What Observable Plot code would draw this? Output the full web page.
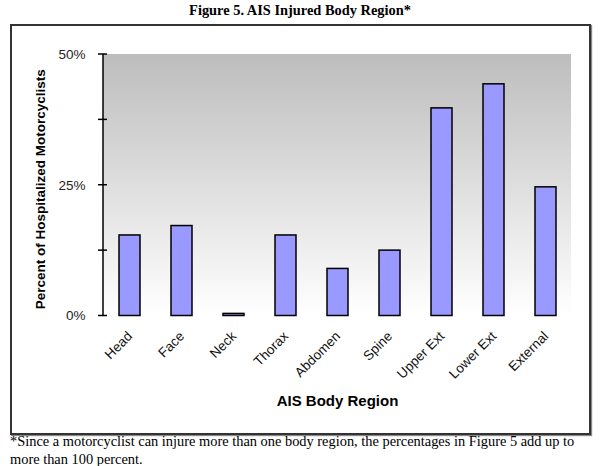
<!DOCTYPE html>
<html><head><meta charset="utf-8">
<script src="https://cdn.jsdelivr.net/npm/d3@7"></script>
<script src="https://cdn.jsdelivr.net/npm/@observablehq/plot@0.6"></script>
<style>
html,body{margin:0;padding:0;background:#fff;}
body{width:600px;height:466px;position:relative;overflow:hidden;}
#title{position:absolute;left:0;top:1px;width:600px;text-align:center;font:bold 14.4px/18px "Liberation Serif","Times New Roman",serif;color:#000;}
#frame{position:absolute;left:10px;top:24px;width:577px;height:407px;border:2px solid #333;box-shadow:1px 1px 1px #888;}
#note{position:absolute;left:10px;top:432px;width:590px;font:14.4px/18px "Liberation Serif","Times New Roman",serif;color:#000;white-space:nowrap;}
</style></head><body>
<div id="title">Figure 5. AIS Injured Body Region*</div>
<div id="frame"></div>
<div id="note">*Since a motorcyclist can injure more than one body region, the percentages in Figure 5 add up to<br>more than 100 percent.</div>
<script>
const regions = ["Head", "Face", "Neck", "Thorax", "Abdomen", "Spine", "Upper Ext", "Lower Ext", "External"];
const percents = [15.4, 17.2, 0.4, 15.4, 9.0, 12.5, 39.7, 44.3, 24.6];
const yTicks = [0, 12.5, 25, 37.5, 50];
const yLabels = [0, 25, 50];
const xTitle = "AIS Body Region";
const yTitle = "Percent of Hospitalized Motorcyclists";

const data = regions.map((r, i) => ({region: r, pct: percents[i]}));

const background = (index, scales, values, dim) => {
  const g = d3.create("svg:g");
  const grad = g.append("defs").append("linearGradient")
    .attr("id", "bgGrad").attr("x1", 0).attr("y1", 0).attr("x2", 0).attr("y2", 1);
  grad.append("stop").attr("offset", "0%").attr("stop-color", "#bdbdbd");
  grad.append("stop").attr("offset", "100%").attr("stop-color", "#ffffff");
  const y = scales.y;
  g.append("rect")
    .attr("x", dim.marginLeft)
    .attr("width", dim.width - dim.marginLeft - dim.marginRight)
    .attr("y", y(d3.max(yTicks)))
    .attr("height", y(0) - y(d3.max(yTicks)))
    .attr("fill", "url(#bgGrad)");
  return g.node();
};

const yAxisLine = (index, scales, values, dim) => {
  const g = d3.create("svg:g").attr("stroke", "#000").attr("stroke-width", 1.5);
  const y = scales.y;
  g.append("line")
    .attr("x1", dim.marginLeft).attr("x2", dim.marginLeft)
    .attr("y1", y(d3.max(yTicks))).attr("y2", y(0));
  for (const t of yTicks) {
    g.append("line")
      .attr("x1", dim.marginLeft - 5).attr("x2", dim.marginLeft + 4)
      .attr("y1", y(t)).attr("y2", y(t));
  }
  return g.node();
};

const chart = Plot.plot({
  width: 577,
  height: 407,
  marginLeft: 91,
  marginRight: 18,
  marginTop: 28,
  marginBottom: 117.5,
  style: {fontFamily: "'Liberation Sans', Arial, sans-serif", fontSize: "12px", background: "transparent", color: "#000"},
  x: {domain: regions, paddingInner: 0.6, paddingOuter: 0.3, label: null},
  y: {domain: [0, 50], label: null},
  marks: [
    background,
    Plot.axisY({ticks: yLabels, tickSize: 0, tickPadding: 18, tickFormat: d => d + "%", fontSize: 13.5, fill: "#222", label: null}),
    Plot.axisX({tickRotate: -45, tickSize: 0, tickPadding: 18, fontSize: 13.5, fill: "#111", label: null}),
    Plot.barY(data, {x: "region", y: "pct", fill: "#9999ff", stroke: "#000", strokeWidth: 1.5}),
    yAxisLine,
    Plot.text([xTitle], {frameAnchor: "bottom", dy: 90, fontWeight: "bold", fontSize: 15}),
    Plot.text([yTitle], {frameAnchor: "left", textAnchor: "middle", rotate: -90, dx: -63, dy: 4, fontWeight: "bold", fontSize: 13.5, letterSpacing: "0.7px"})
  ]
});
document.getElementById("frame").appendChild(chart);
</script>
</body></html>
